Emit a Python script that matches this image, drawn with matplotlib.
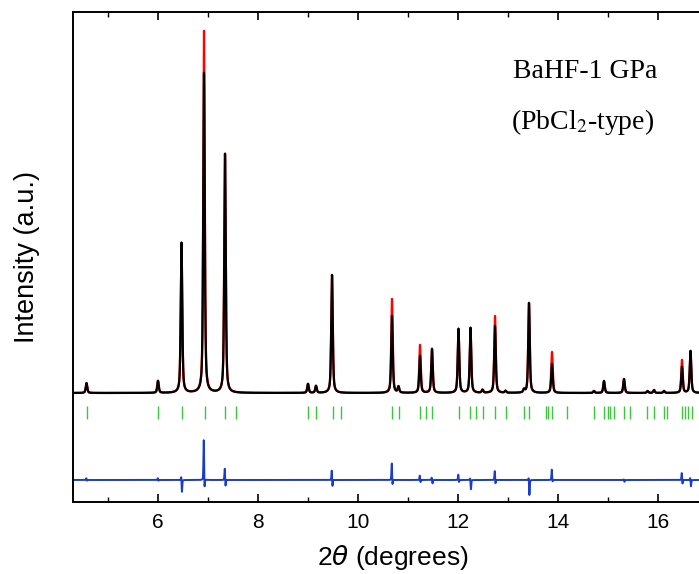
import numpy as np
import matplotlib
matplotlib.use("Agg")
import matplotlib.pyplot as plt

# peak positions (2theta) with observed / calculated heights (arbitrary units)
peak_pos = [4.57, 6.00, 6.47, 6.92, 7.34, 9.00, 9.16, 9.48, 10.68, 10.81,
            11.24, 11.48, 12.01, 12.25, 12.49, 12.74, 12.95, 13.32, 13.42,
            13.88, 14.72, 14.92, 15.32, 15.79, 15.92, 16.12, 16.48, 16.65]
obs_height = [10, 12, 150, 362, 239, 9, 7, 118, 94, 6,
              48, 44, 64, 65, 3, 77, 2, 3, 90,
              41, 2, 12, 14, 2, 3, 2, 33, 42]
calc_height = [10, 12, 150, 320, 239, 9, 7, 118, 77, 6,
               37, 44, 64, 65, 3, 67, 2, 3, 90,
               29, 2, 12, 14, 2, 3, 2, 26, 42]

# Bragg reflection markers
hkl_pos = [4.58, 6.00, 6.48, 6.94, 7.34, 7.56, 9.00, 9.16, 9.50, 9.66,
           10.68, 10.82, 11.24, 11.36, 11.48, 12.02, 12.24, 12.36, 12.50,
           12.74, 12.96, 13.32, 13.42, 13.76, 13.80, 13.88, 14.18, 14.72,
           14.92, 15.00, 15.04, 15.12, 15.32, 15.44, 15.78, 15.92, 16.12,
           16.18, 16.48, 16.54, 16.60, 16.68]

# difference curve features: position, positive and negative excursion
diff_pos = [4.57, 6.00, 6.47, 6.92, 7.34, 9.48, 10.68, 11.24, 11.48,
            12.01, 12.25, 12.74, 13.42, 13.88, 15.32, 16.48, 16.65]
diff_up = [2, 2, 5, 43, 13, 11, 18, 5, 3, 6, 3, 10, 4, 11, 1, 8, 3]
diff_down = [1, 1, 13, 13, 8, 8, 7, 3, 4, 3, 10, 5, 16, 3, 2, 5, 7]

pattern_offset = 109
diff_offset = 22
tick_lo, tick_hi = 83, 96


def pv(x, x0, w, eta=0.55):
    # pseudo-Voigt peak shape
    g = np.exp(-4 * np.log(2) * ((x - x0) / w) ** 2)
    l = 1 / (1 + 4 * ((x - x0) / w) ** 2)
    return eta * l + (1 - eta) * g


x = np.linspace(4.3, 17.1, 8000)
obs = np.zeros_like(x)
calc = np.zeros_like(x)
for p, ho, hc in zip(peak_pos, obs_height, calc_height):
    obs += ho * pv(x, p, 0.036)
    calc += hc * pv(x, p, 0.036)

diff = np.zeros_like(x)
for p, u, d in zip(diff_pos, diff_up, diff_down):
    diff += u * pv(x, p - 0.004, 0.016, 0.3) - d * pv(x, p + 0.008, 0.016, 0.3)

plt.rcParams['font.family'] = ['Liberation Sans', 'DejaVu Sans']

fig = plt.figure(figsize=(6.99, 5.74), dpi=100)
ax = fig.add_axes([73 / 699, 1 - 502 / 574, (713 - 73) / 699, 490 / 574])

ax.plot(x, obs + pattern_offset, color='red', lw=1.6)
ax.plot(x, calc + pattern_offset, color='black', lw=1.6)
ax.vlines(hkl_pos, tick_lo, tick_hi, color='#3cc83c', lw=1.0)
ax.plot(x, diff + diff_offset, color='#1a3cc8', lw=1.4)

ax.set_xlim(4.3, 17.1)
ax.set_ylim(0, 490)
ax.set_xticks([6, 8, 10, 12, 14, 16])
ax.set_xticks([5, 7, 9, 11, 13, 15, 17], minor=True)
ax.set_yticks([])
ax.tick_params(axis='x', which='both', direction='in', top=True, labelsize=15, pad=8)
ax.tick_params(axis='x', which='major', length=6, width=1.2)
ax.tick_params(axis='x', which='minor', length=3.5, width=1.0)
for s in ax.spines.values():
    s.set_linewidth(1.4)

ax.set_xlabel('2$\\theta$ (degrees)', fontsize=19, math_fontfamily='dejavusans', labelpad=8)
ax.set_ylabel('Intensity (a.u.)', fontsize=19.5, labelpad=24)

fig.text(585 / 699, 1 - 72 / 574, 'BaHF-1 GPa', fontsize=20, ha='center', va='center',
         family='Liberation Serif')
fig.text(583 / 699, 1 - 122 / 574, '(PbCl$_2$-type)', fontsize=20, ha='center', va='center',
         family='Liberation Serif', math_fontfamily='stix')

fig.savefig('out.png', dpi=100)
